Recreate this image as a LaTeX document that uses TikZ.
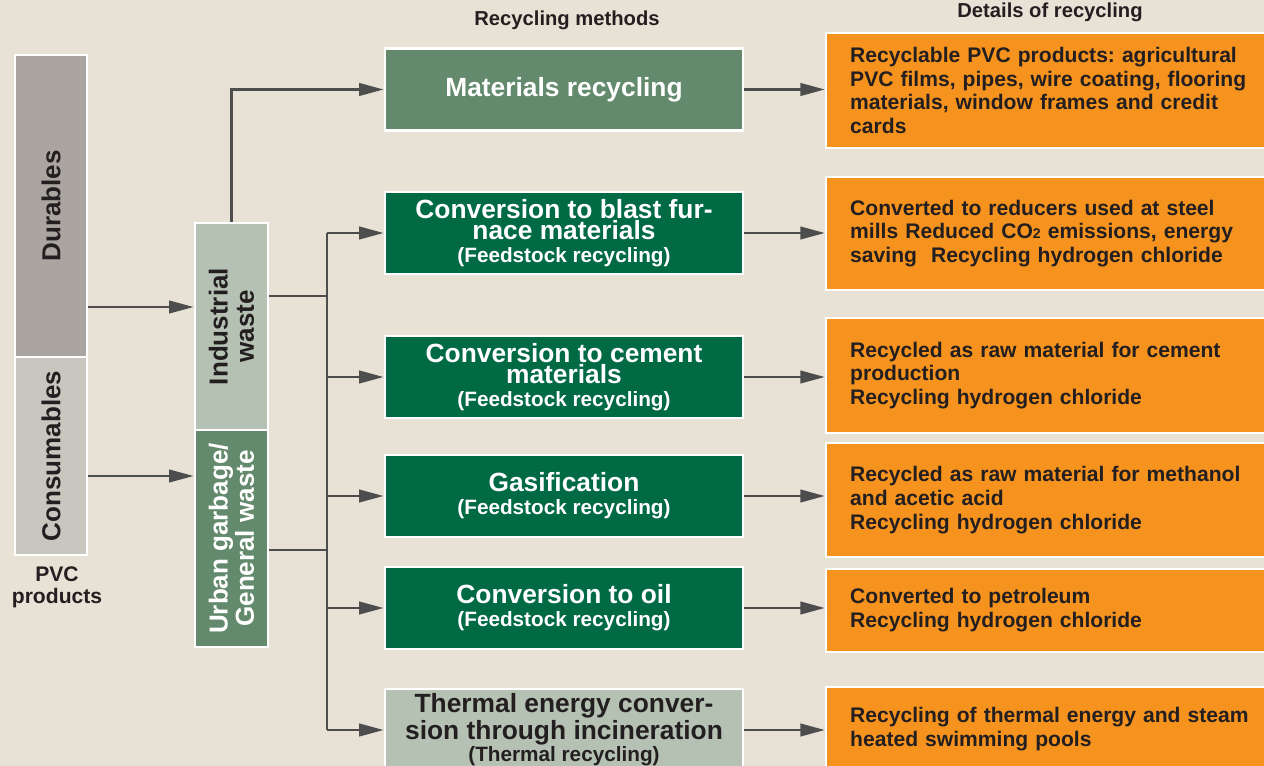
\documentclass[tikz,border=0pt]{standalone}
\usepackage{fontspec}
\setmainfont{Liberation Sans}
\frenchspacing
\usetikzlibrary{arrows.meta}
\definecolor{bg}{RGB}{232,226,214}
\definecolor{ink}{RGB}{35,31,32}
\definecolor{durgray}{RGB}{170,165,160}
\definecolor{congray}{RGB}{200,198,191}
\definecolor{palegreen}{RGB}{181,193,179}
\definecolor{midgreen}{RGB}{99,138,108}
\definecolor{darkgreen}{RGB}{0,106,68}
\definecolor{orangebox}{RGB}{246,146,30}
\definecolor{linegray}{RGB}{77,77,77}
\tikzstyle{prod} = [rectangle, draw=white, line width=1.4pt, inner sep=0pt, rotate=90, align=center, font=\bfseries\fontsize{14.8}{15}\selectfont, text=ink]
\tikzstyle{method} = [rectangle, draw=white, line width=1.4pt, minimum width=7.16cm, minimum height=1.64cm, inner sep=0pt, align=center, text=white, fill=darkgreen, font=\bfseries\fontsize{15}{12}\selectfont]
\tikzstyle{detail} = [rectangle, draw=white, line width=1.4pt, fill=orangebox, anchor=west, inner xsep=0.48cm, inner ysep=0pt, text width=8.3cm, align=left, text=ink, font=\bfseries\fontsize{12}{13.6}\selectfont]
\tikzstyle{head} = [font=\bfseries\fontsize{11.5}{13}\selectfont, text=ink]
\tikzstyle{line} = [draw=linegray, line width=1.7pt, -{Triangle[length=14pt,width=7pt]}]
\tikzstyle{wire} = [draw=linegray, line width=1.7pt]
\newcommand{\subfont}{\fontsize{11.8}{12}\selectfont}

\begin{document}
\begin{tikzpicture}[x=0.02cm, y=-0.02cm]
\useasboundingbox (0,0) rectangle (1264,766);
\fill[bg] (0,0) rectangle (1264,766);
\clip (0,0) rectangle (1264,766);
% headings
\node [head] (hmeth) at (567,20) {Recycling methods};
\node [head] (hdet) at (1050,12) {Details of recycling};
% PVC products
\node [prod, fill=durgray, minimum width=6.04cm, minimum height=1.44cm] (dur) at (51,206) {Durables};
\node [prod, fill=congray, minimum width=3.96cm, minimum height=1.44cm] (con) at (51,456) {Consumables};
\node [align=center, font=\bfseries\fontsize{12}{12.5}\selectfont, text=ink] (pvc) at (57,587) {PVC\\products};
% waste (rotated: north is the left side, south the right side)
\node [prod, fill=palegreen, minimum width=4.14cm, minimum height=1.46cm] (ind) at (231.5,326.5) {Industrial\\waste};
\node [prod, fill=midgreen, text=white, minimum width=4.34cm, minimum height=1.46cm] (urb) at (231.5,538.5) {Urban garbage/\\General waste};
% methods
\node [method, fill=midgreen] (mat) at (564,89.5) {Materials recycling};
\node [method] (bla) at (564,233) {Conversion to blast fur-\\nace materials\\[1pt]\subfont (Feedstock recycling)};
\node [method] (cem) at (564,377) {Conversion to cement\\materials\\[1pt]\subfont (Feedstock recycling)};
\node [method] (gas) at (564,496) {Gasification\\[1pt]\subfont (Feedstock recycling)};
\node [method] (oil) at (564,608) {Conversion to oil\\[1pt]\subfont (Feedstock recycling)};
\node [method, fill=palegreen, text=ink] (the) at (564,730) {Thermal energy conver-\\sion through incineration\\[1pt]\subfont (Thermal recycling)};
% details
\node [detail, minimum height=2.3cm] (dmat) at (825,90.5) {Recyclable PVC products: agricultural\\PVC films, pipes, wire coating, flooring\\materials, window frames and credit\\cards};
\node [detail, minimum height=2.26cm] (dbla) at (825,233.5) {Converted to reducers used at steel\\mills Reduced CO{\fontsize{8}{10}\selectfont 2} emissions, energy\\saving\ \ Recycling hydrogen chloride};
\node [detail, minimum height=2.3cm] (dcem) at (825,375.5) {Recycled as raw material for cement\\production\\Recycling hydrogen chloride};
\node [detail, minimum height=2.28cm] (dgas) at (825,500) {Recycled as raw material for methanol\\and acetic acid\\Recycling hydrogen chloride};
\node [detail, minimum height=1.66cm] (doil) at (825,610.5) {Converted to petroleum\\Recycling hydrogen chloride};
\node [detail, minimum height=1.68cm] (dthe) at (825,729) {Recycling of thermal energy and steam\\heated swimming pools};
% connectors
\coordinate (din) at (88,307);
\coordinate (cin) at (88,476);
\coordinate (jind) at (327,296);
\coordinate (jurb) at (327,550);
\path [line] (din) -- (din -| ind.north);
\path [line] (cin) -- (cin -| urb.north);
\path [line] (ind.east) |- (mat.west);
\path [wire] (ind.south |- jind) -- (jind);
\path [wire] (urb.south |- jurb) -- (jurb);
\path [wire] (jind |- bla.west) -- (jind |- the.west);
\foreach \m in {bla,cem,gas,oil,the}
  \path [line] (jind |- \m.west) -- (\m.west);
\foreach \m/\d in {mat/dmat,bla/dbla,cem/dcem,gas/dgas,oil/doil,the/dthe}
  \path [line] (\m.east) -- (\m.east -| \d.west);
\end{tikzpicture}
\end{document}
